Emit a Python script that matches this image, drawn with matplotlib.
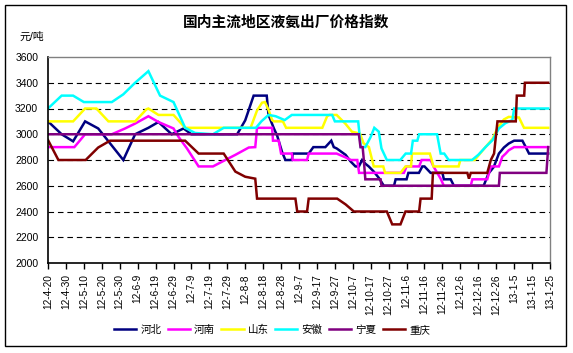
import matplotlib
matplotlib.use("Agg")
import matplotlib.pyplot as plt
from matplotlib.patches import Rectangle

plt.rcParams['font.family'] = ['Liberation Sans', 'Noto Sans CJK SC', 'DejaVu Sans']

title = "国内主流地区液氨出厂价格指数"
unit_label = "元/吨"
tick_labels = ['12-4-20', '12-4-30', '12-5-10', '12-5-20', '12-5-30', '12-6-9', '12-6-19',
               '12-6-29', '12-7-9', '12-7-19', '12-7-29', '12-8-8', '12-8-18', '12-8-28',
               '12-9-7', '12-9-17', '12-9-27', '12-10-7', '12-10-17', '12-10-27', '12-11-6',
               '12-11-16', '12-11-26', '12-12-6', '12-12-16', '12-12-26', '13-1-5', '13-1-15',
               '13-1-25']
tick_step_days = 10
y_ticks = [2000, 2200, 2400, 2600, 2800, 3000, 3200, 3400, 3600]

# days since 2012-04-20
hebei_day = [0, 7.6, 14, 20.7, 28, 42, 48.6, 56, 61.6, 69, 75.6, 80, 105.5, 110, 114.7, 122, 123,
             126, 127.8, 130.5, 132.4, 136, 136.5, 145.4, 148, 154.7, 158, 159.4, 161, 166, 168.7,
             171.5, 173.4, 175.2, 177.1, 178.9, 181.7, 184.6, 187.3, 193, 193.9, 200, 201, 206.9,
             208.8, 210, 213.4, 220, 220.8, 224.6, 226.4, 243, 245.7, 248.6, 251.5, 254.3, 257,
             260, 264.6, 266.5, 268.3, 279]
hebei_val = [3100, 3000, 2945, 3100, 3045, 2800, 3000, 3050, 3095, 3000, 3045, 3000, 3000, 3108,
             3300, 3300, 3150, 3045, 2990, 2865, 2800, 2800, 2850, 2850, 2900, 2900, 2950, 2900,
             2890, 2840, 2790, 2750, 2750, 2800, 2770, 2750, 2710, 2660, 2600, 2600, 2650, 2650,
             2700, 2700, 2750, 2750, 2700, 2700, 2650, 2650, 2600, 2600, 2695, 2745, 2850, 2897,
             2928, 2950, 2950, 2900, 2850, 2850]

henan_day = [0, 14.7, 20.7, 35.6, 43, 48.6, 56, 61.6, 70, 72.8, 77.5, 84, 92, 98.9, 104.5, 112,
             115.6, 116.6, 125, 125.5, 128.7, 130, 136, 136.5, 144.5, 145.4, 161, 166, 169, 172.5,
             173.5, 198.5, 200, 207, 208.4, 213.4, 215, 219, 220.8, 235.8, 236.7, 245, 247, 251.5,
             253.4, 255.3, 257, 260, 279]
henan_val = [2900, 2900, 3000, 3000, 3045, 3083, 3140, 3095, 3045, 2980, 2890, 2750, 2750, 2800,
             2840, 2897, 2900, 3050, 3050, 2950, 2950, 2850, 2850, 2800, 2800, 2850, 2850, 2820,
             2800, 2800, 2700, 2700, 2750, 2750, 2800, 2800, 2750, 2655, 2600, 2600, 2650, 2650,
             2750, 2750, 2825, 2850, 2876, 2900, 2900]

shandong_day = [0, 14, 20.7, 27, 33.7, 48.6, 55, 56, 61.6, 70, 76.5, 113, 116.6, 119.4, 121, 123,
                125, 126, 131, 132.8, 153, 155.7, 157, 161, 166, 169.5, 174, 176, 179, 181.7, 187,
                188, 196.6, 199.4, 202.5, 203, 213, 215, 229, 230, 238, 241, 244, 248, 250.6, 254.3,
                257, 262.7, 265.5, 279]
shandong_val = [3100, 3100, 3200, 3200, 3100, 3100, 3195, 3200, 3150, 3150, 3050, 3050, 3185, 3245,
                3250, 3190, 3110, 3100, 3100, 3050, 3050, 3140, 3150, 3150, 3080, 3020, 3005, 2930,
                2900, 2750, 2750, 2700, 2700, 2750, 2750, 2850, 2850, 2750, 2750, 2800, 2800, 2850,
                2900, 2965, 3045, 3115, 3135, 3130, 3050, 3050]

anhui_day = [0, 7.6, 14, 20, 35.6, 42, 48.6, 56, 62.5, 70, 76.5, 82, 92, 98, 116, 119, 123, 127,
             132, 136, 158.5, 160, 173, 174.5, 177, 180, 182, 184.5, 186, 189, 196.5, 199.5, 202.5,
             203.5, 206, 207, 217, 219, 221, 223.5, 236.5, 240, 244, 248, 251.5, 255, 259, 260, 279]
anhui_val = [3200, 3300, 3300, 3250, 3250, 3310, 3400, 3490, 3300, 3250, 3050, 3010, 3000, 3050,
             3050, 3100, 3150, 3140, 3110, 3150, 3150, 3100, 3100, 2900, 2900, 2980, 3050, 3020,
             2890, 2800, 2800, 2850, 2850, 2950, 2950, 3000, 3000, 2850, 2850, 2800, 2800, 2840,
             2900, 2955, 3045, 3085, 3110, 3200, 3200]

ningxia_day = [0, 173.4, 174.3, 175.5, 176, 177, 185.5, 186, 251.5, 252, 278, 279]
ningxia_val = [3000, 3000, 2900, 2900, 2825, 2650, 2650, 2600, 2600, 2700, 2700, 2900]

chongqing_day = [0, 5.8, 21, 28, 34.6, 76.5, 84, 98, 104.5, 110, 115.6, 116.6, 138, 139, 144.5,
                 145.4, 161.3, 166, 170.6, 189, 192, 196.6, 199.4, 207, 207.8, 214, 214.7, 233.9,
                 234.8, 235.8, 245, 247, 248.8, 250.7, 260.9, 261.5, 265.6, 266, 279]
chongqing_val = [2955, 2800, 2800, 2897, 2950, 2950, 2850, 2850, 2710, 2670, 2655, 2500, 2500, 2400,
                 2400, 2500, 2500, 2455, 2400, 2400, 2300, 2300, 2400, 2400, 2500, 2500, 2700, 2700,
                 2655, 2700, 2700, 2800, 2850, 3100, 3100, 3300, 3300, 3400, 3400]

series_names = ['河北', '河南', '山东', '安徽', '宁夏', '重庆']
series_days = [hebei_day, henan_day, shandong_day, anhui_day, ningxia_day, chongqing_day]
series_vals = [hebei_val, henan_val, shandong_val, anhui_val, ningxia_val, chongqing_val]
colors = ['#000080', '#FF00FF', '#FFFF00', '#00FFFF', '#800080', '#800000']

W, H = 573, 353
fig = plt.figure(figsize=(W / 100, H / 100), dpi=100)
fig.patch.set_facecolor('white')
fig.patches.append(Rectangle((5 / W, 1 - 346 / H), 561 / W, 341 / H, transform=fig.transFigure,
                             fill=False, edgecolor='black', linewidth=1.0))

ax = fig.add_axes([48 / W, 1 - 263 / H, 502 / W, 206 / H])
x_end = (len(tick_labels) - 1) * tick_step_days
ax.set_xlim(0, x_end)
ax.set_ylim(y_ticks[0], y_ticks[-1])

for v in y_ticks[1:-1]:
    ax.axhline(v, color='black', linewidth=0.8, linestyle=(0, (5, 3.5)), zorder=1)

for name, d, v, c in zip(series_names, series_days, series_vals, colors):
    ax.plot(d, v, color=c, linewidth=1.8, label=name, zorder=3, solid_joinstyle='miter')

ax.set_xticks([i * tick_step_days for i in range(len(tick_labels))])
ax.set_xticklabels(tick_labels, rotation=90, fontsize=7.3)
ax.set_yticks(y_ticks)
ax.set_yticklabels([str(t) for t in y_ticks], fontsize=7.5)
ax.tick_params(axis='x', length=4, width=1, direction='out', pad=4)
ax.tick_params(axis='y', length=0, pad=7)

for s in ['left', 'bottom']:
    ax.spines[s].set_color('black')
    ax.spines[s].set_linewidth(1.2)
    ax.spines[s].set_zorder(5)
for s in ['top', 'right']:
    ax.spines[s].set_color('#808080')
    ax.spines[s].set_linewidth(1.0)
    ax.spines[s].set_zorder(5)

fig.text(286 / W, 1 - 22.5 / H, title, ha='center', va='center', fontsize=10.6, fontweight='bold')
fig.text(20 / W, 1 - 37 / H, unit_label, ha='left', va='center', fontsize=7.8)

fig.legend(loc='center', bbox_to_anchor=(272 / W, 1 - 330 / H), ncol=6, frameon=False,
           fontsize=7.6, handlelength=2.1, handletextpad=0.4, columnspacing=0.6,
           borderpad=0, borderaxespad=0)

fig.savefig('out.png', dpi=100, facecolor='white')
